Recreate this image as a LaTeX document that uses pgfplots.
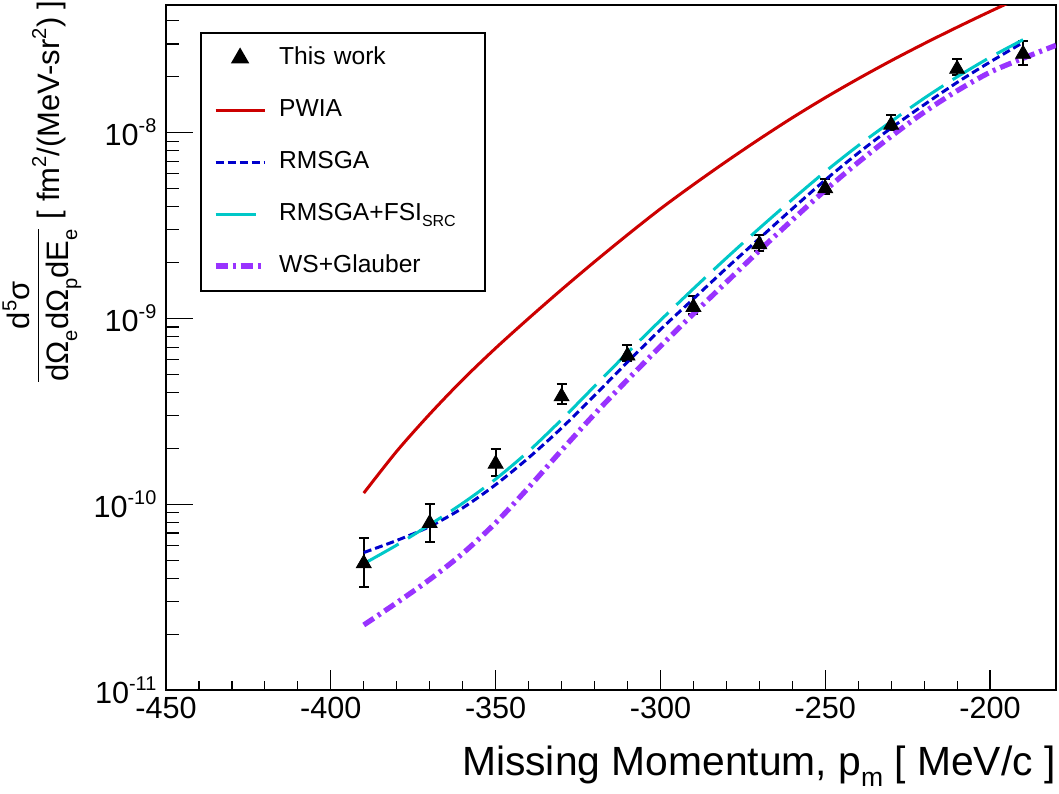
\documentclass[border=0pt]{standalone}
\usepackage{fontspec}
\setmainfont{Liberation Sans}
\usepackage{pgfplots}
\pgfplotsset{compat=1.18}
\usepackage{pgfplotstable}
\definecolor{cpwia}{RGB}{204,0,0}
\definecolor{crmsga}{RGB}{0,0,204}
\definecolor{cfsi}{RGB}{0,200,200}
\definecolor{cglaub}{RGB}{153,51,255}
\makeatletter
\newcommand\sps[1]{\raisebox{0.42em}{\fontsize{\fpeval{0.65*\f@size}}{1}\selectfont #1}}
\newcommand\sbs[1]{\raisebox{-0.28em}{\fontsize{\fpeval{0.65*\f@size}}{1}\selectfont #1}}
\makeatother
\pgfplotsset{
  linelegend/.style={legend image code/.code={\draw[##1] (0pt,0pt) -- (24.5pt,0pt);}},
  marklegend/.style={legend image code/.code={\draw[mark repeat=2,mark phase=2,##1] plot coordinates {(0pt,0pt) (12.25pt,0pt) (24.5pt,0pt)};}},
}

\pgfplotstableread{
x y ep em
-390 4.8e-11 1.8e-11 1.2e-11
-370 7.9e-11 2.1e-11 1.6e-11
-350 1.65e-10 3.4e-11 2.3e-11
-330 3.8e-10 6.5e-11 3.5e-11
-310 6.3e-10 9e-11 4e-11
-290 1.15e-9 1.7e-10 1.0e-10
-270 2.5e-9 3.0e-10 2.0e-10
-250 5.0e-9 6e-10 3.5e-10
-230 1.1e-8 1.4e-9 7e-10
-210 2.2e-8 2.8e-9 1.5e-9
-190 2.65e-8 4.5e-9 3.5e-9
}\datatab

\pgfplotstableread{
x y
-390 1.148e-10
-380 1.928e-10
-370 3.055e-10
-360 4.677e-10
-350 6.918e-10
-340 1.000e-9
-330 1.429e-9
-320 2.018e-9
-310 2.818e-9
-300 3.890e-9
-290 5.248e-9
-280 6.998e-9
-270 9.226e-9
-260 1.202e-8
-250 1.542e-8
-240 1.950e-8
-230 2.438e-8
-220 3.013e-8
-210 3.690e-8
-200 4.487e-8
-190 5.420e-8
}\pwiatab

\pgfplotstableread{
x y
-390 5.495e-11
-380 6.383e-11
-370 7.586e-11
-360 9.550e-11
-350 1.274e-10
-340 1.778e-10
-330 2.570e-10
-320 3.846e-10
-310 5.821e-10
-300 8.710e-10
-290 1.274e-9
-280 1.862e-9
-270 2.692e-9
-260 3.890e-9
-250 5.559e-9
-240 7.762e-9
-230 1.059e-8
-220 1.413e-8
-210 1.862e-8
-200 2.399e-8
-190 3.055e-8
}\rmsgatab

\pgfplotstableread{
x y
-390 4.786e-11
-380 6.026e-11
-370 7.762e-11
-360 1.012e-10
-350 1.365e-10
-340 1.928e-10
-330 2.851e-10
-320 4.315e-10
-310 6.531e-10
-300 9.772e-10
-290 1.445e-9
-280 2.113e-9
-270 3.055e-9
-260 4.365e-9
-250 6.166e-9
-240 8.511e-9
-230 1.148e-8
-220 1.531e-8
-210 1.995e-8
-200 2.541e-8
-190 3.162e-8
}\fsitab

\pgfplotstableread{
x y
-390 2.239e-11
-380 2.951e-11
-370 3.936e-11
-360 5.433e-11
-350 7.943e-11
-340 1.230e-10
-330 1.950e-10
-320 3.055e-10
-310 4.677e-10
-300 7.079e-10
-290 1.059e-9
-280 1.567e-9
-270 2.317e-9
-260 3.388e-9
-250 4.898e-9
-240 6.918e-9
-230 9.550e-9
-220 1.288e-8
-210 1.679e-8
-200 2.113e-8
-190 2.512e-8
-180 2.951e-8
}\glaubtab

\begin{document}
\begin{tikzpicture}
\useasboundingbox (-83pt,-51.5pt) rectangle (446.5pt,345pt);
\begin{axis}[
  at={(0,0)}, anchor=south west,
  scale only axis, width=445pt, height=342.5pt,
  xmin=-450, xmax=-180,
  ymode=log, ymin=1e-11, ymax=4.86e-8,
  xtick={-450,-400,-350,-300,-250,-200},
  xticklabels={-450,-400,-350,-300,-250,-200},
  minor x tick num=4,
  ytick={1e-11,1e-10,1e-9,1e-8},
  yticklabels={10\sps{-11},10\sps{-10},10\sps{-9},10\sps{-8}},
  minor ytick={2e-11,3e-11,4e-11,5e-11,6e-11,7e-11,8e-11,9e-11,2e-10,3e-10,4e-10,5e-10,6e-10,7e-10,8e-10,9e-10,2e-9,3e-9,4e-9,5e-9,6e-9,7e-9,8e-9,9e-9,2e-8,3e-8,4e-8},
  tick pos=left, tick align=inside,
  xtick style={/pgfplots/major tick length=10pt,/pgfplots/minor tick length=4.5pt,line width=0.6pt,black},
  ytick style={/pgfplots/major tick length=13.5pt,/pgfplots/minor tick length=6.5pt,line width=0.6pt,black},
  axis line style={line width=1pt},
  ticklabel style={font=\fontsize{15.3}{16}\selectfont},
  yticklabel style={xshift=-1.3pt},
  xlabel={Missing Momentum, p\sbs{m} [ MeV/c ]},
  xlabel style={font=\fontsize{20.4}{22}\selectfont, at={(axis description cs:1,0)}, anchor=base east, yshift=-42.5pt, inner sep=0pt},
  ylabel={\begin{tabular}[c]{@{}c@{}}d\sps{5}σ\\[-1pt]\hline\rule{0pt}{15pt}dΩ\sbs{e}dΩ\sbs{p}dE\sbs{e}\end{tabular}\hspace{5pt}\raisebox{-5pt}{[ fm\sps{2}/(MeV-sr\sps{2}) ]}},
  ylabel style={font=\fontsize{15.5}{17}\selectfont, at={(axis description cs:0,1)}, anchor=east, xshift=2.5pt, yshift=62pt, inner sep=0pt},
  linelegend,
  legend style={at={(axis description cs:0.0382,0.9606)}, anchor=north west,
     draw=black, line width=1pt, inner xsep=6pt, inner ysep=6.5pt,
     font=\fontsize{12.3}{14}\selectfont, row sep=14pt, column sep=6pt,
     nodes={inner xsep=0pt, inner ysep=0pt, text height=9pt, text depth=3pt},
     /tikz/every even column/.append style={text width=97pt},
     cells={anchor=west}},
]
\addplot[only marks, mark=triangle*, mark size=4.3pt, black, marklegend,
  error bars/.cd, y dir=both, y explicit,
  error bar style={line width=1pt,black},
  error mark options={rotate=90, line width=1pt, mark size=2.5pt, black}]
  table[x=x,y=y,y error plus=ep,y error minus=em]{\datatab};
\addlegendentry{This work}
\addplot[cpwia, line width=1.5pt, smooth] table[x=x,y=y]{\pwiatab};
\addlegendentry{PWIA}
\addplot[crmsga, line width=1.5pt, smooth, dash pattern=on 4pt off 2pt] table[x=x,y=y]{\rmsgatab};
\addlegendentry{RMSGA}
\addplot[cfsi, line width=1.5pt, smooth, dash pattern=on 20pt off 5.5pt] table[x=x,y=y]{\fsitab};
\addlegendentry{RMSGA+FSI\sbs{SRC}}
\addplot[cglaub, line width=2.6pt, smooth, dash pattern=on 6pt off 2.5pt on 1.5pt off 2.5pt] table[x=x,y=y]{\glaubtab};
\addlegendentry{WS+Glauber}
\end{axis}
\end{tikzpicture}
\end{document}
